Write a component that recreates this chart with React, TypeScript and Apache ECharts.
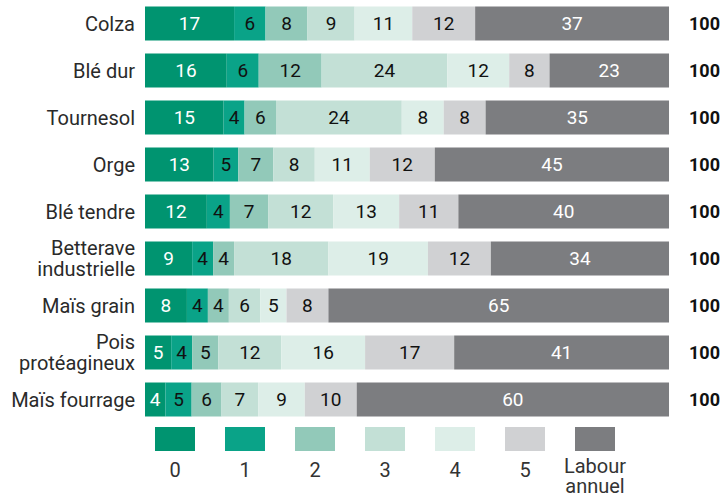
import React, { useEffect, useRef } from "react";
import * as echarts from "echarts";

const categories = [
  "Colza",
  "Blé dur",
  "Tournesol",
  "Orge",
  "Blé tendre",
  "Betterave\nindustrielle",
  "Maïs grain",
  "Pois\nprotéagineux",
  "Maïs fourrage",
];

const seriesNames = ["0", "1", "2", "3", "4", "5", "Labour\nannuel"];
const colors = ["#009470", "#0aa388", "#92c9b9", "#c3e0d6", "#ddeee8", "#d0d1d3", "#7c7d80"];
const labelColors = ["#ffffff", "#111111", "#111111", "#111111", "#111111", "#111111", "#ffffff"];

// values per series (rows follow categories order)
const s0 = [17, 15.6, 15, 13.1, 11.8, 9, 8, 5, 3.9];
const s1 = [6, 6.1, 4, 4.7, 4.4, 4, 4, 4, 5.0];
const s2 = [8, 12.0, 6, 6.7, 7.3, 4, 4, 5, 5.7];
const s3 = [9, 24.0, 24, 7.9, 12.4, 18, 6, 12, 7.0];
const s4 = [11, 11.8, 8, 10.5, 12.6, 19, 5, 16, 8.9];
const s5 = [12, 7.7, 8, 12.4, 11.3, 12, 8, 17, 9.9];
const sLabour = [37, 22.8, 35, 44.7, 40.2, 34, 65, 41, 59.7];

const totals = [100, 100, 100, 100, 100, 100, 100, 100, 100];

const FONT = "Roboto, 'Liberation Sans', sans-serif";

export default function App() {
  const ref = useRef<HTMLDivElement>(null);

  useEffect(() => {
    if (!ref.current) return;
    const chart = echarts.init(ref.current, undefined, { renderer: "svg" });
    const allSeries = [s0, s1, s2, s3, s4, s5, sLabour];

    const legendStartX = 175;
    const legendStep = 70;
    const graphic: any[] = [];
    seriesNames.forEach((name, i) => {
      const cx = legendStartX + i * legendStep;
      graphic.push({
        type: "rect",
        shape: { x: cx - 20, y: 427, width: 40, height: 24 },
        style: { fill: colors[i] },
      });
      const twoLines = name.includes("\n");
      graphic.push({
        type: "text",
        x: cx,
        y: twoLines ? 476 : 470,
        style: {
          text: name,
          fill: "#333333",
          font: `20px ${FONT}`,
          align: "center",
          verticalAlign: "middle",
          lineHeight: 20,
        },
      });
    });

    chart.setOption({
      animation: false,
      grid: { left: 145, right: 53, top: 0, height: 423, containLabel: false },
      xAxis: {
        type: "value",
        min: 0,
        max: 100,
        show: false,
      },
      yAxis: [
        {
          type: "category",
          data: categories,
          inverse: true,
          axisLine: { show: false },
          axisTick: { show: false },
          axisLabel: {
            margin: 10,
            color: "#2a2a2a",
            fontSize: 20,
            fontFamily: FONT,
            lineHeight: 21,
            align: "right",
          },
        },
        {
          type: "category",
          data: categories,
          inverse: true,
          position: "right",
          axisLine: { show: false },
          axisTick: { show: false },
          axisLabel: {
            margin: 20,
            color: "#111111",
            fontSize: 18,
            fontWeight: "bold",
            fontFamily: FONT,
            align: "left",
            formatter: (_v: string, idx: number) => String(totals[idx]),
          },
        },
      ],
      series: allSeries.map((data, i) => ({
        name: seriesNames[i],
        type: "bar",
        stack: "total",
        barWidth: 34,
        data,
        itemStyle: { color: colors[i] },
        label: {
          show: true,
          position: "inside",
          color: labelColors[i],
          fontSize: 19,
          fontFamily: FONT,
          formatter: (p: any) => String(Math.round(p.value)),
        },
      })),
      graphic,
    });

    return () => chart.dispose();
  }, []);

  return (
    <div
      ref={ref}
      style={{ position: "absolute", left: 0, top: 0, width: 723, height: 495 }}
    />
  );
}
